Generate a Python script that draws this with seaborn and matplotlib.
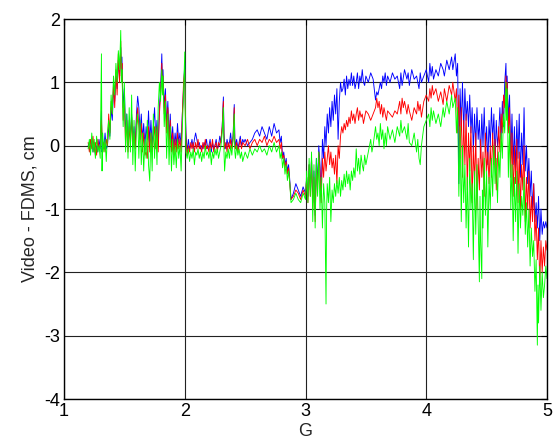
import matplotlib
matplotlib.use("Agg")
import matplotlib.pyplot as plt
import seaborn as sns
import pandas as pd

# (G, Video - FDMS) samples, per series
blue_xy = [
    (1.20, 0.0), (1.21, 0.05), (1.22, -0.05), (1.23, 0.1), (1.24, -0.1), (1.25, 0.05), (1.26, -0.15),
    (1.27, 0.0), (1.28, -0.1), (1.29, 0.1), (1.30, -0.05), (1.31, 0.55), (1.315, -0.1), (1.32, 0.1),
    (1.33, -0.05), (1.34, 0.2), (1.35, -0.05), (1.36, 0.0), (1.37, 0.3), (1.38, 0.15), (1.39, 0.6),
    (1.40, 0.4), (1.41, 0.9), (1.42, 0.7), (1.43, 1.1), (1.44, 0.9), (1.45, 1.35), (1.46, 1.1),
    (1.47, 1.55), (1.475, 1.2), (1.48, 1.4), (1.49, 0.6), (1.50, 0.9), (1.51, 0.2), (1.52, 0.5),
    (1.53, 0.0), (1.54, 0.4), (1.55, 0.15), (1.56, 0.5), (1.57, 0.1), (1.58, 0.3), (1.59, 0.0),
    (1.60, 0.5), (1.61, 0.78), (1.62, 0.6), (1.63, 0.2), (1.64, 0.5), (1.65, 0.1), (1.66, 0.35),
    (1.67, 0.0), (1.68, 0.3), (1.69, 0.1), (1.70, 0.55), (1.71, 0.05), (1.72, 0.4), (1.73, 0.0),
    (1.74, 0.3), (1.75, 0.6), (1.76, 0.1), (1.77, 0.4), (1.78, 0.0), (1.79, 0.6), (1.80, 0.9),
    (1.81, 1.45), (1.815, 1.0), (1.82, 1.2), (1.83, 0.6), (1.84, 0.9), (1.85, 0.3), (1.86, 0.7),
    (1.87, 0.1), (1.88, 0.5), (1.89, 0.0), (1.90, 0.3), (1.91, -0.05), (1.92, 0.2), (1.93, 0.0),
    (1.94, 0.35), (1.95, 0.05), (1.96, 0.2), (1.97, 0.0), (1.98, 0.5), (1.99, 0.9), (2.00, 1.3),
    (2.005, 0.6), (2.01, 0.2), (2.02, -0.1), (2.03, 0.1), (2.04, -0.05), (2.05, 0.0), (2.06, 0.1),
    (2.07, -0.05), (2.08, 0.1), (2.09, 0.2), (2.10, 0.1), (2.11, 0.0), (2.12, 0.05), (2.13, -0.05),
    (2.14, 0.0), (2.15, -0.05), (2.16, 0.05), (2.17, 0.0), (2.18, 0.1), (2.19, -0.05), (2.20, 0.0),
    (2.21, 0.1), (2.22, -0.1), (2.23, 0.05), (2.24, -0.05), (2.25, 0.0), (2.26, 0.1), (2.27, -0.05),
    (2.28, 0.0), (2.29, 0.15), (2.30, 0.05), (2.31, 0.3), (2.32, 0.77), (2.325, 0.2), (2.33, 0.05),
    (2.34, -0.05), (2.35, 0.1), (2.36, 0.0), (2.37, 0.05), (2.38, 0.2), (2.39, 0.0), (2.40, 0.15),
    (2.41, 0.65), (2.415, 0.1), (2.42, 0.0), (2.43, 0.1), (2.44, -0.05), (2.45, 0.05), (2.46, 0.15),
    (2.47, 0.0), (2.48, 0.1), (2.49, 0.05), (2.50, 0.1), (2.52, 0.0), (2.54, 0.05), (2.56, 0.1),
    (2.58, 0.2), (2.60, 0.25), (2.62, 0.15), (2.64, 0.3), (2.66, 0.2), (2.68, 0.1), (2.70, 0.3),
    (2.72, 0.15), (2.74, 0.35), (2.76, 0.2), (2.78, 0.25), (2.79, 0.05), (2.80, 0.15), (2.81, -0.2),
    (2.82, -0.1), (2.83, -0.3), (2.84, -0.2), (2.85, -0.4), (2.86, -0.3), (2.87, -0.55), (2.88, -0.85),
    (2.90, -0.75), (2.92, -0.6), (2.94, -0.7), (2.96, -0.8), (2.98, -0.65), (3.00, -0.75), (3.01, -0.5),
    (3.02, -0.8), (3.03, -0.3), (3.04, -0.7), (3.05, -0.2), (3.06, -0.9), (3.07, -0.4), (3.08, -1.1),
    (3.09, -0.2), (3.10, -0.6), (3.11, 0.0), (3.12, -0.3), (3.13, -0.8), (3.14, 0.1), (3.15, -0.2),
    (3.16, 0.3), (3.17, 0.0), (3.18, 0.5), (3.19, 0.2), (3.20, 0.6), (3.21, 0.3), (3.22, 0.7),
    (3.23, 0.4), (3.24, 0.8), (3.25, 0.5), (3.26, 0.9), (3.27, 0.1), (3.28, 0.7), (3.29, 1.0),
    (3.30, 0.85), (3.31, 0.9), (3.32, 1.05), (3.33, 0.8), (3.34, 1.1), (3.35, 0.9), (3.36, 1.05),
    (3.37, 0.95), (3.38, 1.15), (3.39, 0.95), (3.40, 1.1), (3.41, 0.9), (3.42, 1.0), (3.43, 1.15),
    (3.44, 0.9), (3.45, 1.1), (3.46, 1.0), (3.47, 1.2), (3.48, 1.0), (3.49, 0.95), (3.50, 1.1),
    (3.52, 1.0), (3.54, 1.15), (3.56, 1.05), (3.58, 0.72), (3.59, 0.85), (3.60, 0.8), (3.62, 1.0),
    (3.63, 0.9), (3.64, 1.1), (3.65, 1.0), (3.66, 1.15), (3.67, 0.95), (3.68, 1.1), (3.70, 1.0),
    (3.72, 1.15), (3.74, 1.05), (3.76, 1.1), (3.78, 0.9), (3.79, 1.15), (3.80, 0.95), (3.82, 1.2),
    (3.84, 1.05), (3.85, 1.15), (3.86, 0.95), (3.88, 1.2), (3.90, 1.05), (3.92, 1.1), (3.94, 0.9),
    (3.95, 1.15), (3.96, 1.0), (3.98, 1.1), (4.00, 1.2), (4.02, 1.0), (4.03, 1.3), (4.04, 1.1),
    (4.05, 1.25), (4.06, 1.05), (4.08, 1.2), (4.10, 1.1), (4.12, 1.3), (4.14, 1.2), (4.15, 1.1),
    (4.17, 1.35), (4.19, 1.2), (4.21, 1.4), (4.22, 1.2), (4.24, 1.45), (4.25, 1.1), (4.26, 1.3),
    (4.27, -0.6), (4.28, 0.9), (4.29, 0.3), (4.30, 1.0), (4.31, 0.2), (4.32, 0.9), (4.33, 0.4),
    (4.34, 0.7), (4.35, 0.3), (4.36, 0.8), (4.37, 0.2), (4.38, 0.6), (4.39, -0.1), (4.40, 0.5),
    (4.41, 0.0), (4.42, 0.6), (4.43, 0.1), (4.44, 0.4), (4.45, -0.2), (4.46, 0.5), (4.47, 0.0),
    (4.48, 0.6), (4.49, -0.1), (4.50, 0.3), (4.51, -0.3), (4.52, 0.4), (4.53, 0.0), (4.54, 0.6),
    (4.55, 0.1), (4.56, 0.5), (4.57, -0.2), (4.58, 0.4), (4.59, 0.0), (4.60, 0.2), (4.61, 0.6),
    (4.62, 0.1), (4.63, 0.7), (4.64, 0.3), (4.65, 1.0), (4.66, 1.3), (4.665, 0.8), (4.67, 1.1),
    (4.68, 0.4), (4.69, 0.8), (4.70, -0.2), (4.71, 0.5), (4.72, -0.3), (4.73, 0.3), (4.74, -0.4),
    (4.75, 0.4), (4.76, -0.2), (4.77, 0.5), (4.78, -0.5), (4.79, 0.2), (4.80, -0.3), (4.81, 0.6),
    (4.82, -0.4), (4.83, 0.0), (4.84, -0.6), (4.85, -0.2), (4.86, -0.8), (4.87, -0.4), (4.88, -1.0),
    (4.89, -0.6), (4.90, -1.2), (4.91, -0.9), (4.92, -1.3), (4.93, -0.8), (4.94, -1.5), (4.95, -1.0),
    (4.96, -1.4), (4.97, -1.2), (4.98, -1.3), (4.99, -1.2), (5.00, -1.3),
]

red_xy = [
    (1.20, 0.05), (1.21, -0.1), (1.22, 0.1), (1.23, -0.05), (1.24, 0.15), (1.25, -0.1), (1.26, 0.05),
    (1.27, -0.15), (1.28, 0.1), (1.29, -0.05), (1.30, 0.0), (1.31, 0.4), (1.32, -0.1), (1.33, 0.05),
    (1.34, -0.1), (1.35, 0.1), (1.36, 0.0), (1.37, 0.5), (1.38, 0.2), (1.39, 0.7), (1.40, 0.5),
    (1.41, 1.0), (1.42, 0.6), (1.43, 1.2), (1.44, 0.8), (1.45, 1.45), (1.46, 1.0), (1.47, 1.65),
    (1.475, 1.1), (1.48, 1.3), (1.49, 0.4), (1.50, 0.7), (1.51, 0.0), (1.52, 0.4), (1.53, -0.1),
    (1.54, 0.3), (1.55, 0.0), (1.56, 0.45), (1.57, 0.0), (1.58, 0.2), (1.59, -0.05), (1.60, 0.4),
    (1.61, 0.6), (1.62, 0.3), (1.63, 0.1), (1.64, 0.35), (1.65, -0.1), (1.66, 0.2), (1.67, -0.15),
    (1.68, -0.1), (1.69, -0.2), (1.70, 0.3), (1.71, -0.1), (1.72, 0.2), (1.73, -0.1), (1.74, 0.1),
    (1.75, 0.3), (1.76, -0.05), (1.77, 0.3), (1.78, -0.1), (1.79, 0.5), (1.80, 0.8), (1.81, 1.3),
    (1.815, 0.9), (1.82, 1.1), (1.83, 0.5), (1.84, 0.8), (1.85, 0.2), (1.86, 0.6), (1.87, 0.0),
    (1.88, 0.4), (1.89, -0.1), (1.90, 0.2), (1.91, -0.15), (1.92, 0.1), (1.93, -0.1), (1.94, 0.2),
    (1.95, -0.05), (1.96, 0.1), (1.97, -0.1), (1.98, 0.5), (1.99, 1.0), (2.00, 1.2), (2.005, 0.5),
    (2.01, 0.1), (2.02, -0.15), (2.03, 0.0), (2.04, -0.1), (2.05, 0.05), (2.06, -0.05), (2.07, 0.05),
    (2.08, -0.1), (2.09, 0.05), (2.10, -0.05), (2.11, 0.1), (2.12, -0.05), (2.13, 0.0), (2.14, -0.1),
    (2.15, 0.05), (2.16, -0.05), (2.17, 0.1), (2.18, -0.05), (2.19, 0.0), (2.20, -0.1), (2.21, 0.05),
    (2.22, -0.05), (2.23, 0.1), (2.24, -0.1), (2.25, 0.0), (2.26, 0.05), (2.27, -0.1), (2.28, 0.05),
    (2.29, 0.0), (2.30, 0.1), (2.31, 0.3), (2.32, 0.7), (2.325, 0.1), (2.33, -0.05), (2.34, 0.05),
    (2.35, -0.1), (2.36, 0.05), (2.37, -0.05), (2.38, 0.1), (2.39, -0.05), (2.40, 0.1), (2.41, 0.6),
    (2.415, 0.0), (2.42, -0.05), (2.43, 0.05), (2.44, -0.1), (2.45, 0.0), (2.46, 0.1), (2.47, -0.05),
    (2.48, 0.05), (2.50, 0.0), (2.52, 0.1), (2.54, -0.05), (2.56, 0.05), (2.58, 0.1), (2.60, 0.0),
    (2.62, 0.1), (2.64, 0.05), (2.66, 0.15), (2.68, 0.0), (2.70, 0.1), (2.72, 0.05), (2.74, 0.15),
    (2.76, 0.05), (2.78, 0.1), (2.79, -0.05), (2.80, 0.05), (2.81, -0.2), (2.82, -0.15), (2.83, -0.35),
    (2.84, -0.25), (2.85, -0.45), (2.86, -0.35), (2.87, -0.6), (2.88, -0.85), (2.90, -0.8), (2.92, -0.7),
    (2.94, -0.75), (2.96, -0.85), (2.98, -0.7), (3.00, -0.8), (3.01, -0.5), (3.02, -0.9), (3.03, -0.3),
    (3.04, -0.8), (3.05, -0.2), (3.06, -1.0), (3.07, -0.5), (3.08, -1.2), (3.09, -0.3), (3.10, -0.7),
    (3.11, -0.1), (3.12, -0.4), (3.13, -0.9), (3.14, -0.2), (3.15, -0.5), (3.16, -0.1), (3.17, -0.4),
    (3.18, -0.2), (3.19, 0.0), (3.20, -0.3), (3.21, -0.1), (3.22, -0.35), (3.23, -0.2), (3.24, -0.45),
    (3.25, -0.15), (3.26, -0.6), (3.27, 0.0), (3.28, -0.2), (3.29, 0.15), (3.30, 0.3), (3.31, 0.2),
    (3.32, 0.35), (3.33, 0.25), (3.34, 0.4), (3.35, 0.3), (3.36, 0.45), (3.37, 0.35), (3.38, 0.55),
    (3.39, 0.4), (3.40, 0.5), (3.41, 0.35), (3.42, 0.5), (3.43, 0.6), (3.44, 0.4), (3.45, 0.55),
    (3.46, 0.45), (3.47, 0.5), (3.48, 0.35), (3.49, 0.45), (3.50, 0.55), (3.52, 0.5), (3.54, 0.4),
    (3.56, 0.5), (3.58, 0.6), (3.59, 0.75), (3.60, 0.6), (3.61, 0.7), (3.62, 0.5), (3.63, 0.65),
    (3.64, 0.45), (3.65, 0.6), (3.66, 0.5), (3.67, 0.4), (3.68, 0.55), (3.70, 0.5), (3.72, 0.45),
    (3.74, 0.55), (3.76, 0.5), (3.78, 0.7), (3.79, 0.5), (3.80, 0.75), (3.81, 0.6), (3.82, 0.7),
    (3.84, 0.5), (3.85, 0.65), (3.86, 0.55), (3.88, 0.4), (3.90, 0.6), (3.92, 0.5), (3.93, 0.7),
    (3.94, 0.55), (3.95, 0.65), (3.96, 0.45), (3.98, 0.7), (4.00, 0.8), (4.02, 0.7), (4.03, 0.9),
    (4.04, 0.75), (4.05, 0.95), (4.06, 0.8), (4.08, 0.9), (4.10, 0.7), (4.12, 0.85), (4.14, 0.65),
    (4.15, 0.9), (4.17, 0.7), (4.19, 0.95), (4.21, 0.8), (4.22, 1.0), (4.24, 0.7), (4.25, 0.9),
    (4.26, 0.2), (4.27, 0.8), (4.28, -0.2), (4.29, 0.6), (4.30, -0.5), (4.31, 0.4), (4.32, -0.3),
    (4.33, 0.5), (4.34, -0.7), (4.35, 0.2), (4.36, -0.4), (4.37, 0.3), (4.38, -0.9), (4.39, 0.0),
    (4.40, -0.6), (4.41, 0.2), (4.42, -1.0), (4.43, -0.2), (4.44, -0.7), (4.45, 0.1), (4.46, -0.5),
    (4.47, -0.1), (4.48, -0.8), (4.49, 0.2), (4.50, -0.4), (4.51, -0.1), (4.52, -0.6), (4.53, 0.0),
    (4.54, -0.5), (4.55, 0.2), (4.56, -0.3), (4.57, 0.1), (4.58, -0.7), (4.59, -0.2), (4.60, 0.3),
    (4.61, -0.1), (4.62, 0.5), (4.63, 0.2), (4.64, 0.8), (4.65, 0.6), (4.66, 1.1), (4.665, 0.7),
    (4.67, 1.0), (4.68, 0.2), (4.69, 0.6), (4.70, -0.5), (4.71, 0.2), (4.72, -0.8), (4.73, 0.0),
    (4.74, -0.6), (4.75, 0.1), (4.76, -0.9), (4.77, -0.1), (4.78, -1.0), (4.79, -0.3), (4.80, -0.7),
    (4.81, 0.0), (4.82, -1.2), (4.83, -0.5), (4.84, -1.0), (4.85, -0.4), (4.86, -1.3), (4.87, -0.8),
    (4.88, -1.2), (4.89, -0.6), (4.90, -1.5), (4.91, -1.1), (4.92, -1.8), (4.93, -1.3), (4.94, -2.2),
    (4.95, -1.5), (4.96, -2.0), (4.97, -1.6), (4.98, -1.9), (4.99, -1.5), (5.00, -1.65),
]

green_xy = [
    (1.20, -0.05), (1.21, 0.1), (1.22, -0.15), (1.23, 0.2), (1.24, -0.1), (1.25, 0.1), (1.26, -0.2),
    (1.27, 0.15), (1.28, -0.1), (1.29, 0.0), (1.30, -0.2), (1.31, 1.45), (1.315, -0.4), (1.32, 0.2),
    (1.33, -0.1), (1.34, 0.1), (1.35, -0.25), (1.36, 0.2), (1.37, 0.4), (1.38, 0.1), (1.39, 0.8),
    (1.40, 0.5), (1.41, 1.1), (1.42, 0.8), (1.43, 1.3), (1.44, 1.0), (1.45, 1.5), (1.46, 1.2),
    (1.47, 1.82), (1.475, 1.0), (1.48, 1.2), (1.49, 0.3), (1.50, 1.0), (1.51, -0.1), (1.52, 0.5),
    (1.53, -0.2), (1.54, 0.6), (1.55, -0.1), (1.56, 0.8), (1.57, -0.3), (1.58, 0.4), (1.59, -0.4),
    (1.60, 0.3), (1.61, 0.5), (1.62, -0.2), (1.63, 0.4), (1.64, -0.3), (1.65, 0.2), (1.66, -0.4),
    (1.67, 0.1), (1.68, -0.2), (1.69, 0.4), (1.70, -0.3), (1.71, -0.56), (1.72, 0.2), (1.73, -0.4),
    (1.74, 0.5), (1.75, -0.2), (1.76, 0.3), (1.77, -0.3), (1.78, 0.6), (1.79, 1.0), (1.80, 0.7),
    (1.81, 1.2), (1.815, 0.8), (1.82, 1.1), (1.83, 0.3), (1.84, 0.7), (1.85, -0.2), (1.86, 0.5),
    (1.87, -0.3), (1.88, 0.3), (1.89, -0.4), (1.90, 0.1), (1.91, -0.3), (1.92, 0.0), (1.93, -0.35),
    (1.94, 0.1), (1.95, -0.2), (1.96, 0.0), (1.97, -0.4), (1.98, 0.3), (1.99, 0.8), (2.00, 1.48),
    (2.005, 0.4), (2.01, -0.1), (2.02, -0.2), (2.03, -0.05), (2.04, -0.25), (2.05, -0.1), (2.06, -0.2),
    (2.07, -0.05), (2.08, -0.3), (2.09, -0.1), (2.10, -0.15), (2.11, -0.05), (2.12, -0.2), (2.13, -0.1),
    (2.14, -0.25), (2.15, -0.1), (2.16, -0.2), (2.17, 0.0), (2.18, -0.15), (2.19, -0.1), (2.20, -0.2),
    (2.21, -0.05), (2.22, -0.3), (2.23, -0.1), (2.24, -0.2), (2.25, -0.05), (2.26, -0.15), (2.27, -0.05),
    (2.28, -0.2), (2.29, -0.1), (2.30, 0.0), (2.31, 0.2), (2.32, 0.6), (2.325, -0.1), (2.33, -0.4),
    (2.34, -0.1), (2.35, -0.2), (2.36, -0.05), (2.37, -0.2), (2.38, 0.0), (2.39, -0.15), (2.40, 0.1),
    (2.41, 0.5), (2.415, -0.1), (2.42, -0.2), (2.43, 0.0), (2.44, -0.15), (2.45, -0.05), (2.46, -0.2),
    (2.47, -0.1), (2.48, -0.25), (2.50, -0.1), (2.52, -0.2), (2.54, -0.05), (2.56, -0.15), (2.58, -0.05),
    (2.60, -0.1), (2.62, 0.0), (2.64, -0.1), (2.66, -0.05), (2.68, -0.15), (2.70, 0.0), (2.72, -0.1),
    (2.74, 0.05), (2.76, -0.1), (2.78, 0.0), (2.79, -0.2), (2.80, -0.1), (2.81, -0.35), (2.82, -0.2),
    (2.83, -0.45), (2.84, -0.3), (2.85, -0.55), (2.86, -0.4), (2.87, -0.6), (2.88, -0.9), (2.90, -0.85),
    (2.92, -0.75), (2.94, -0.85), (2.96, -0.9), (2.98, -0.75), (3.00, -0.85), (3.01, -0.4), (3.02, -0.9),
    (3.03, -0.2), (3.04, -0.8), (3.05, -0.1), (3.06, -1.2), (3.07, -0.3), (3.08, -1.3), (3.09, -0.2),
    (3.10, -0.8), (3.11, -0.1), (3.12, -1.0), (3.13, -0.5), (3.14, -1.3), (3.15, -0.6), (3.16, -0.9),
    (3.17, -2.5), (3.175, -1.0), (3.18, -0.6), (3.19, -0.9), (3.20, -0.5), (3.21, -1.2), (3.22, -0.7),
    (3.23, -0.9), (3.24, -0.6), (3.25, -0.8), (3.26, -0.55), (3.27, -0.75), (3.28, -0.5), (3.29, -0.8),
    (3.30, -0.55), (3.31, -0.7), (3.32, -0.45), (3.33, -0.65), (3.34, -0.4), (3.35, -0.6), (3.36, -0.45),
    (3.37, -0.7), (3.38, -0.4), (3.39, -0.55), (3.40, -0.35), (3.41, -0.5), (3.42, -0.05), (3.43, -0.4),
    (3.44, -0.2), (3.45, -0.45), (3.46, -0.15), (3.47, -0.3), (3.48, -0.4), (3.49, -0.15), (3.50, -0.3),
    (3.52, -0.1), (3.54, 0.1), (3.55, -0.1), (3.56, 0.0), (3.58, 0.3), (3.59, 0.1), (3.60, 0.2),
    (3.61, 0.0), (3.62, 0.35), (3.63, 0.1), (3.64, 0.25), (3.65, -0.05), (3.66, 0.2), (3.67, 0.0),
    (3.68, 0.3), (3.70, 0.1), (3.72, 0.25), (3.74, 0.05), (3.76, 0.3), (3.78, 0.15), (3.79, 0.4),
    (3.80, 0.2), (3.82, 0.3), (3.84, 0.1), (3.85, 0.35), (3.86, 0.05), (3.88, 0.0), (3.90, 0.2),
    (3.92, -0.1), (3.93, 0.1), (3.94, -0.2), (3.95, -0.3), (3.96, 0.0), (3.98, 0.3), (4.00, 0.4),
    (4.02, 0.5), (4.03, 0.3), (4.04, 0.6), (4.05, 0.4), (4.06, 0.55), (4.08, 0.35), (4.10, 0.5),
    (4.12, 0.3), (4.14, 0.6), (4.15, 0.45), (4.17, 0.7), (4.19, 0.5), (4.21, 0.8), (4.22, 0.6),
    (4.24, 0.75), (4.25, 0.2), (4.26, 0.6), (4.27, -0.8), (4.28, 0.3), (4.29, -1.2), (4.30, 0.0),
    (4.31, -0.9), (4.32, -0.3), (4.33, -1.3), (4.34, -0.5), (4.35, -1.6), (4.36, -0.2), (4.37, -1.0),
    (4.38, -0.6), (4.39, -1.8), (4.40, -0.4), (4.41, -1.4), (4.42, -0.3), (4.43, -1.2), (4.44, -2.15),
    (4.445, -0.8), (4.45, -1.5), (4.46, -2.1), (4.465, -0.7), (4.47, -1.3), (4.48, -0.2), (4.49, -1.1),
    (4.50, -0.4), (4.51, -1.6), (4.52, -0.5), (4.53, -1.0), (4.54, -0.2), (4.55, -0.8), (4.56, 0.0),
    (4.57, -0.6), (4.58, -0.2), (4.59, -0.9), (4.60, -0.1), (4.61, -0.5), (4.62, 0.2), (4.63, -0.2),
    (4.64, 0.5), (4.65, 0.2), (4.66, 1.0), (4.665, 0.4), (4.67, 0.9), (4.68, -0.5), (4.69, 0.3),
    (4.70, -1.0), (4.71, -0.3), (4.72, -1.5), (4.73, -0.5), (4.74, -1.2), (4.75, -0.4), (4.76, -1.7),
    (4.77, -0.6), (4.78, -1.3), (4.79, -0.8), (4.80, -1.1), (4.81, -0.5), (4.82, -1.4), (4.83, -0.9),
    (4.84, -1.6), (4.85, -1.0), (4.86, -1.9), (4.87, -1.3), (4.88, -1.75), (4.89, -1.5), (4.90, -2.3),
    (4.91, -1.8), (4.92, -3.15), (4.925, -2.2), (4.93, -2.8), (4.94, -1.9), (4.95, -2.6), (4.96, -2.0),
    (4.97, -2.4), (4.98, -2.2), (4.99, -1.9), (5.00, -2.1),
]

series = [("blue", blue_xy, "#0000ff"), ("red", red_xy, "#ff0000"), ("green", green_xy, "#00ff00")]

x_ticks = [1, 2, 3, 4, 5]
y_ticks = [-4, -3, -2, -1, 0, 1, 2]
x_label = "G"
y_label = "Video - FDMS, cm"

sns.set_style("white")
plt.rcParams["font.family"] = ["Liberation Sans", "DejaVu Sans"]

fig = plt.figure(figsize=(5.54, 4.46), dpi=100)
ax = fig.add_axes([64 / 554, 47 / 446, 483 / 554, 380 / 446])

for name, pts, col in series:
    df = pd.DataFrame(pts, columns=["G", "v"])
    sns.lineplot(data=df, x="G", y="v", sort=False, estimator=None, color=col,
                 linewidth=0.65, ax=ax, legend=False)

ax.set_xlim(1, 5)
ax.set_ylim(-4, 2)
ax.set_xticks(x_ticks)
ax.set_yticks(y_ticks)
ax.set_xticklabels([str(t) for t in x_ticks])
ax.set_yticklabels([str(t) for t in y_ticks])
ax.grid(True, color="#222222", linewidth=0.8, linestyle="-")
ax.set_axisbelow(True)
ax.tick_params(direction="in", length=4, width=0.8, top=True, right=True,
               labelsize=13, colors="black", pad=3)
for s in ax.spines.values():
    s.set_visible(True)
    s.set_color("black")
    s.set_linewidth(1.0)
ax.set_xlabel(x_label, fontsize=13, labelpad=2)
ax.set_ylabel(y_label, fontsize=13, labelpad=4)

fig.savefig("out.png", dpi=100)
